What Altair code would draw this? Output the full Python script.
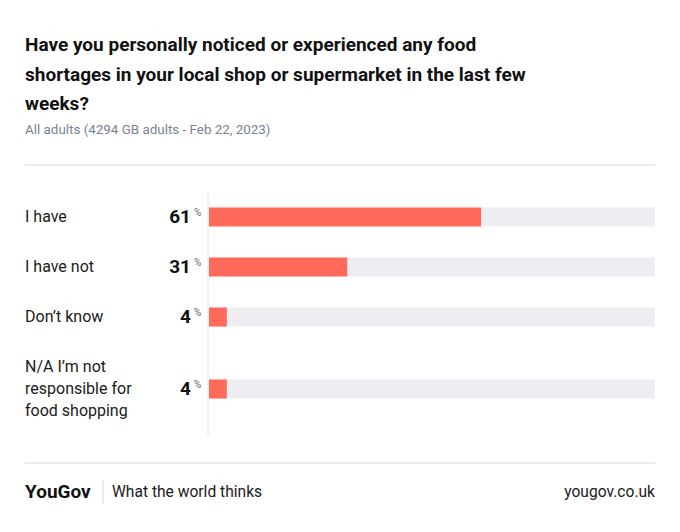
import altair as alt
import pandas as pd

categories = ["I have", "I have not", "Don\u2019t know", "N/A I\u2019m not\nresponsible for\nfood shopping"]
values = [61, 31, 4, 4]

title_lines = [
    "Have you personally noticed or experienced any food",
    "shortages in your local shop or supermarket in the last few",
    "weeks?",
]
subtitle = "All adults (4294 GB adults - Feb 22, 2023)"

BAR = "#ff6a5a"
TRACK = "#ededf2"
FONT = "Roboto"
LH = 22

# row layout derived from number of label lines
lines = [c.count("\n") + 1 for c in categories]
heights = [28 + LH * n for n in lines]
centers, acc = [], 0
for h in heights:
    centers.append(acc + h / 2)
    acc += h
total = acc

df = pd.DataFrame({"cat": categories, "value": values, "pos": centers, "full": [100] * len(values)})
df["lpos"] = df["pos"] - (pd.Series(lines) - 1) * LH / 2

W, H = 664, 516
xs = alt.Scale(domain=[0, 100], range=[201, 647], nice=False, zero=False, padding=0)
ys = alt.Scale(domain=[0, total], range=[184, 184 + total], nice=False, zero=False, padding=0)

base = alt.Chart(df)

track = base.mark_bar(color=TRACK, orient="horizontal", height=19).encode(
    x=alt.X("full:Q", scale=xs, axis=None),
    y=alt.Y("pos:Q", scale=ys, axis=None),
)
bars = base.mark_bar(color=BAR, orient="horizontal", height=19).encode(
    x=alt.X("value:Q", scale=xs, axis=None),
    y=alt.Y("pos:Q", scale=ys, axis=None),
)
labels = base.mark_text(align="left", baseline="middle", font=FONT, fontSize=16, color="#1a1a1a",
                        lineBreak="\n", lineHeight=LH).encode(
    x=alt.value(17), y=alt.Y("lpos:Q", scale=ys, axis=None), text="cat:N")
vals = base.mark_text(align="right", baseline="middle", font=FONT, fontSize=19, fontWeight="bold",
                      color="#111111").encode(
    x=alt.value(183), y=alt.Y("pos:Q", scale=ys, axis=None), text="value:Q")
pct = base.mark_text(align="left", baseline="middle", font=FONT, fontSize=10, color="#666666", dy=-4).encode(
    x=alt.value(186), y=alt.Y("pos:Q", scale=ys, axis=None), text=alt.value("%"))

one = alt.Chart(pd.DataFrame({"a": [0]}))
vline = one.mark_rule(color="#e4e4e8", strokeWidth=1).encode(
    x=alt.value(200), y=alt.value(184), y2=alt.value(184 + total))
hline1 = one.mark_rule(color="#e4e4e8", strokeWidth=1.5).encode(
    x=alt.value(17), x2=alt.value(647), y=alt.value(157))
hline2 = one.mark_rule(color="#e4e4e8", strokeWidth=1.5).encode(
    x=alt.value(17), x2=alt.value(647), y=alt.value(455))
title = one.mark_text(align="left", baseline="alphabetic", font=FONT, fontSize=19, fontWeight="bold",
                      color="#111111", lineHeight=29.5, text=title_lines).encode(
    x=alt.value(17), y=alt.value(43))
sub = one.mark_text(align="left", baseline="middle", font=FONT, fontSize=13.4, color="#7a8292").encode(
    x=alt.value(17), y=alt.value(122), text=alt.value(subtitle))
logo = one.mark_text(align="left", baseline="middle", font=FONT, fontSize=19, fontWeight="bold",
                     color="#111111").encode(x=alt.value(17), y=alt.value(484), text=alt.value("YouGov"))
divider = one.mark_rule(color="#d8d8dc").encode(x=alt.value(95), y=alt.value(472), y2=alt.value(496))
tag = one.mark_text(align="left", baseline="middle", font=FONT, fontSize=15.6, color="#1a1a1a").encode(
    x=alt.value(104), y=alt.value(484), text=alt.value("What the world thinks"))
url = one.mark_text(align="right", baseline="middle", font=FONT, fontSize=15.6, color="#1a1a1a").encode(
    x=alt.value(647), y=alt.value(484), text=alt.value("yougov.co.uk"))

chart = alt.layer(
    track, bars, vline, hline1, hline2, labels, vals, pct, title, sub, logo, divider, tag, url
).properties(
    width=W, height=H, autosize=alt.AutoSizeParams(type="none"), padding=0, background="white"
).configure_view(strokeWidth=0)

chart.save("out.html", embed_options={"renderer": "svg", "actions": False})
